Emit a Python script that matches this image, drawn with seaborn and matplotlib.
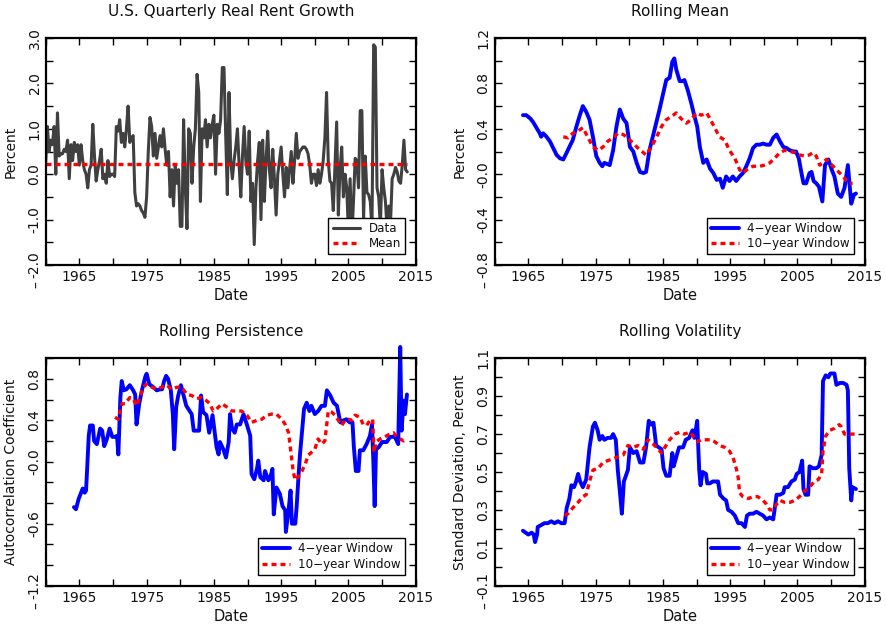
import numpy as np
import pandas as pd
import matplotlib
matplotlib.use("Agg")
import matplotlib.pyplot as plt
import seaborn as sns

# ---------------- data ----------------
# Quarterly real rent growth, 1960Q1 .. 2013Q4 (4 values per year)
rent_growth = [
    0.25, 1.05, 0.5, 0.75,     # 1960
    0.65, 1.05, 0.0, 1.35,     # 1961
    0.4, 0.45, 0.45, 0.55,     # 1962
    0.5, 0.75, -0.1, 0.65,     # 1963
    0.3, 0.7, 0.5, 0.65,       # 1964
    0.2, 0.65, 0.3, 0.1,       # 1965
    0.0, -0.3, 0.1, 0.2,       # 1966
    1.1, 0.4, -0.15, 0.1,      # 1967
    0.3, 0.55, -0.1, 0.0,      # 1968
    -0.2, 0.3, -0.05, 0.0,     # 1969
    0.0, -0.05, 1.05, 0.95,    # 1970
    1.2, 0.7, 0.9, 0.6,        # 1971
    1.0, 1.5, 0.7, 0.8,        # 1972
    0.85, -0.4, -0.7, -0.65,   # 1973
    -0.7, -0.8, -0.85, -0.95,  # 1974
    -0.5, 0.5, 1.25, 1.05,     # 1975
    0.4, 0.9, 0.35, 0.6,       # 1976
    0.85, 0.6, 1.0, 0.55,      # 1977
    0.2, 0.5, -0.5, 0.1,       # 1978
    -0.7, 0.2, -0.2, 0.1,      # 1979
    -1.15, -1.15, 1.2, -0.3,   # 1980
    -1.2, 1.0, 0.9, -0.2,      # 1981
    0.6, 1.0, 2.2, 1.8,        # 1982
    -0.6, 1.0, 0.8, 1.2,       # 1983
    0.6, 1.1, 0.8, 1.1,        # 1984
    1.3, 0.0, 1.1, 0.9,        # 1985
    1.2, 2.35, 2.35, 0.9,      # 1986
    -0.45, 1.8, 0.3, -0.1,     # 1987
    0.3, 0.6, 1.0, 0.2,        # 1988
    -0.5, 0.4, 1.05, 0.3,      # 1989
    0.0, 0.95, -0.6, -0.2,     # 1990
    -1.55, -0.3, 0.3, 0.7,     # 1991
    -1.0, 0.75, -0.6, 0.3,     # 1992
    0.95, 0.1, -0.3, 0.55,     # 1993
    -0.1, -0.9, 0.0, 0.3,      # 1994
    0.6, 0.0, -0.5, 0.15,      # 1995
    -0.3, 0.1, 0.5, -0.2,      # 1996
    0.3, 0.9, 0.35, 0.5,       # 1997
    0.55, 0.6, 0.6, 0.55,      # 1998
    0.45, 0.2, -0.2, 0.0,      # 1999
    0.0, -0.25, 0.1, -0.2,     # 2000
    0.0, 0.3, 0.8, 1.8,        # 2001
    0.3, -0.15, -0.2, -0.8,    # 2002
    0.2, 1.15, -0.9, 0.1,      # 2003
    0.6, -0.5, 0.0, -0.3,      # 2004
    -1.3, -0.1, -1.45, -0.6,   # 2005
    0.35, 0.3, -0.3, 1.4,      # 2006
    1.4, -1.0, 0.4, -0.4,      # 2007
    -0.45, -0.6, -1.2, 2.85,   # 2008
    2.8, -0.3, -0.5, -1.15,    # 2009
    0.1, -0.3, -0.6, -1.2,     # 2010
    -0.7, -1.1, -0.1, 0.0,     # 2011
    0.15, 0.05, -0.15, -0.2,   # 2012
    0.2, 0.75, 0.1, 0.05,      # 2013
]
rent_dates = np.arange(1960.0, 2014.0, 0.25)[:len(rent_growth)]
rent_mean = 0.22

# Rolling mean, 4-year window
mean4_dates = [1964.2, 1964.7, 1965.3, 1965.7, 1966.2, 1966.7, 1966.9, 1967.2, 1967.7, 1968.2,
               1968.7, 1969.2, 1969.7, 1970.2, 1970.7, 1971.1, 1971.6, 1972.1, 1972.6, 1973.1,
               1973.6, 1974.1, 1974.6, 1975.1, 1975.6, 1976.0, 1976.3, 1977.1, 1977.6, 1978.1,
               1978.6, 1979.1, 1979.6, 1980.1, 1980.6, 1981.1, 1981.6, 1982.1, 1982.5, 1983.0,
               1983.5, 1984.0, 1984.5, 1985.0, 1985.5, 1986.0, 1986.4, 1986.7, 1987.0, 1987.5,
               1988.0, 1988.2, 1988.7, 1989.2, 1989.7, 1990.1, 1990.5, 1991.0, 1991.5, 1992.0,
               1992.5, 1993.0, 1993.5, 1993.9, 1994.4, 1994.9, 1995.4, 1995.9, 1996.4, 1996.9,
               1997.4, 1997.9, 1998.4, 1998.9, 1999.4, 1999.9, 2000.4, 2000.9, 2001.4, 2001.9,
               2002.4, 2002.9, 2003.4, 2003.9, 2004.4, 2004.8, 2005.2, 2005.6, 2005.9, 2006.3,
               2006.8, 2007.1, 2007.4, 2007.8, 2008.2, 2008.7, 2009.1, 2009.6, 2010.1, 2010.5,
               2011.0, 2011.5, 2012.0, 2012.5, 2013.0, 2013.4, 2013.7]
mean4_vals = [0.52, 0.52, 0.49, 0.46, 0.41, 0.36, 0.33, 0.36, 0.33, 0.29,
              0.23, 0.17, 0.14, 0.13, 0.19, 0.24, 0.30, 0.41, 0.51, 0.60,
              0.55, 0.48, 0.33, 0.16, 0.10, 0.07, 0.10, 0.08, 0.21, 0.42,
              0.57, 0.49, 0.45, 0.24, 0.20, 0.10, 0.02, 0.01, 0.02, 0.21,
              0.33, 0.45, 0.57, 0.70, 0.83, 0.85, 0.99, 1.02, 0.92, 0.82,
              0.82, 0.83, 0.74, 0.63, 0.51, 0.42, 0.24, 0.10, 0.13, 0.05,
              0.01, -0.05, -0.04, -0.12, -0.02, -0.06, -0.02, -0.06, -0.02, 0.01,
              0.07, 0.14, 0.23, 0.26, 0.26, 0.27, 0.26, 0.26, 0.32, 0.35,
              0.29, 0.24, 0.23, 0.21, 0.20, 0.20, 0.14, 0.01, -0.08, -0.08,
              0.01, 0.02, -0.06, -0.08, -0.11, -0.24, 0.08, 0.13, 0.04, -0.02,
              -0.17, -0.20, -0.12, 0.08, -0.26, -0.18, -0.17]

# Rolling mean, 10-year window
mean10_dates = [1970.2, 1970.9, 1971.6, 1972.4, 1973.1, 1973.9, 1974.6, 1975.4, 1976.1, 1976.8,
                1977.6, 1978.3, 1979.1, 1979.8, 1980.6, 1981.3, 1982.1, 1982.5, 1983.3, 1984.0,
                1984.8, 1985.5, 1986.3, 1987.0, 1987.7, 1988.5, 1989.2, 1990.0, 1990.7, 1991.5,
                1992.0, 1992.7, 1993.4, 1994.2, 1994.9, 1995.7, 1996.4, 1996.9, 1997.7, 1998.4,
                1999.4, 2000.1, 2000.9, 2001.6, 2002.4, 2003.1, 2003.9, 2004.6, 2005.3, 2006.1,
                2006.8, 2007.3, 2007.8, 2008.3, 2008.8, 2009.3, 2009.8, 2010.3, 2010.8, 2011.3,
                2011.8, 2012.3, 2012.8, 2013.2]
mean10_vals = [0.33, 0.32, 0.36, 0.38, 0.41, 0.32, 0.24, 0.21, 0.24, 0.29,
               0.32, 0.36, 0.35, 0.32, 0.27, 0.23, 0.19, 0.17, 0.24, 0.32,
               0.42, 0.48, 0.51, 0.54, 0.49, 0.45, 0.48, 0.54, 0.52, 0.54,
               0.49, 0.41, 0.33, 0.30, 0.21, 0.14, 0.04, 0.01, 0.05, 0.07,
               0.07, 0.08, 0.10, 0.14, 0.19, 0.21, 0.20, 0.19, 0.17, 0.16,
               0.17, 0.19, 0.16, 0.08, 0.10, 0.13, 0.10, 0.07, 0.04, 0.01,
               -0.02, -0.06, -0.08, -0.08]

# Rolling persistence (autocorrelation), 4-year window
pers4_dates = [1964.2, 1964.5, 1964.9, 1965.2, 1965.5, 1965.8, 1966.0, 1966.2, 1966.4, 1966.6,
               1967.0, 1967.2, 1967.6, 1968.1, 1968.4, 1968.7, 1969.1, 1969.5, 1969.9, 1970.3,
               1970.6, 1970.8, 1971.1, 1971.3, 1971.6, 1972.0, 1972.5, 1973.0, 1973.3, 1973.5,
               1973.9, 1974.3, 1974.8, 1975.0, 1975.4, 1976.0, 1976.5, 1977.0, 1977.3, 1977.6,
               1977.9, 1978.2, 1978.6, 1978.9, 1979.1, 1979.4, 1979.7, 1980.1, 1980.5, 1980.9,
               1981.2, 1981.7, 1982.0, 1982.4, 1982.8, 1983.1, 1983.4, 1983.9, 1984.3, 1984.8,
               1985.2, 1985.4, 1985.7, 1985.9, 1986.4, 1986.8, 1987.2, 1987.4, 1987.7, 1988.1,
               1988.4, 1988.9, 1989.4, 1989.9, 1990.4, 1990.6, 1991.0, 1991.4, 1991.6, 1991.9,
               1992.4, 1992.6, 1993.1, 1993.4, 1993.7, 1993.9, 1994.3, 1994.8, 1995.2, 1995.6,
               1995.7, 1996.1, 1996.4, 1996.6, 1997.1, 1997.3, 1997.6, 1997.8, 1998.2, 1998.4,
               1998.8, 1999.2, 1999.5, 2000.0, 2000.5, 2001.0, 2001.5, 2001.8, 2002.3, 2002.8,
               2003.3, 2003.8, 2004.3, 2004.7, 2005.2, 2005.6, 2005.8, 2006.1, 2006.5, 2006.7,
               2007.2, 2007.7, 2008.2, 2008.5, 2008.7, 2008.9, 2009.1, 2009.5, 2010.0, 2010.7,
               2011.2, 2011.9, 2012.4, 2012.7, 2012.9, 2013.2, 2013.4, 2013.7]
pers4_vals = [-0.44, -0.46, -0.36, -0.31, -0.26, -0.30, -0.28, -0.02, 0.25, 0.35,
              0.35, 0.20, 0.17, 0.32, 0.30, 0.15, 0.22, 0.32, 0.24, 0.24,
              0.25, 0.07, 0.62, 0.78, 0.69, 0.70, 0.74, 0.69, 0.65, 0.36,
              0.56, 0.69, 0.82, 0.85, 0.75, 0.72, 0.69, 0.70, 0.70, 0.78,
              0.83, 0.80, 0.69, 0.46, 0.12, 0.53, 0.64, 0.74, 0.64, 0.54,
              0.51, 0.46, 0.30, 0.30, 0.30, 0.64, 0.48, 0.45, 0.28, 0.45,
              0.24, 0.14, 0.07, 0.19, 0.12, 0.04, 0.19, 0.46, 0.32, 0.28,
              0.36, 0.36, 0.46, 0.36, 0.25, -0.12, -0.17, -0.07, 0.01, -0.15,
              -0.18, -0.09, -0.18, -0.15, -0.07, -0.51, -0.25, -0.31, -0.43, -0.47,
              -0.68, -0.47, -0.28, -0.60, -0.60, -0.44, -0.12, 0.07, 0.36, 0.51,
              0.57, 0.49, 0.54, 0.46, 0.49, 0.54, 0.54, 0.69, 0.64, 0.57,
              0.54, 0.38, 0.40, 0.41, 0.38, 0.38, 0.15, -0.09, -0.09, 0.11,
              0.11, 0.17, 0.25, 0.36, 0.01, -0.43, 0.12, 0.14, 0.19, 0.19,
              0.24, 0.24, 0.17, 1.11, 0.30, 0.59, 0.46, 0.65]

# Rolling persistence, 10-year window
pers10_dates = [1970.3, 1970.8, 1971.3, 1971.8, 1972.5, 1973.0, 1973.5, 1974.0, 1974.5, 1975.0,
                1975.8, 1976.5, 1977.2, 1978.0, 1978.7, 1979.5, 1980.2, 1981.0, 1981.7, 1982.4,
                1983.2, 1983.9, 1984.4, 1984.9, 1985.4, 1986.2, 1986.9, 1987.7, 1988.4, 1989.1,
                1989.9, 1990.6, 1991.4, 1992.1, 1992.9, 1993.6, 1994.3, 1995.1, 1995.6, 1996.1,
                1996.3, 1996.6, 1996.8, 1997.1, 1997.6, 1998.1, 1998.6, 1999.0, 1999.5, 2000.0,
                2000.5, 2001.0, 2001.5, 2002.0, 2002.5, 2003.0, 2003.5, 2004.0, 2004.5, 2005.0,
                2005.5, 2006.0, 2006.7, 2007.2, 2007.7, 2008.2, 2008.6, 2008.8, 2009.1, 2009.7,
                2010.4, 2011.2, 2011.7, 2012.2, 2012.7, 2013.2, 2013.7]
pers10_vals = [0.43, 0.41, 0.56, 0.56, 0.62, 0.61, 0.54, 0.62, 0.72, 0.75,
               0.72, 0.70, 0.72, 0.74, 0.70, 0.72, 0.72, 0.65, 0.64, 0.61,
               0.62, 0.59, 0.56, 0.49, 0.51, 0.56, 0.53, 0.49, 0.49, 0.49,
               0.45, 0.38, 0.40, 0.41, 0.45, 0.46, 0.46, 0.41, 0.36, 0.28,
               0.17, 0.01, -0.10, -0.18, -0.14, -0.09, -0.02, 0.06, 0.09, 0.12,
               0.22, 0.17, 0.20, 0.49, 0.48, 0.45, 0.40, 0.35, 0.40, 0.41,
               0.40, 0.45, 0.43, 0.36, 0.35, 0.40, 0.41, 0.09, 0.19, 0.22,
               0.24, 0.27, 0.28, 0.24, 0.22, 0.20, 0.22]

# Rolling volatility, 4-year window
vol4_dates = [1964.2, 1964.6, 1965.0, 1965.5, 1965.8, 1966.0, 1966.3, 1966.4, 1966.9, 1967.4,
              1967.9, 1968.4, 1968.9, 1969.4, 1969.9, 1970.4, 1970.7, 1971.1, 1971.4, 1971.8,
              1972.1, 1972.4, 1972.7, 1973.1, 1973.6, 1974.1, 1974.6, 1974.9, 1975.3, 1975.6,
              1976.0, 1976.3, 1976.8, 1977.3, 1977.6, 1978.0, 1978.3, 1978.6, 1978.9, 1979.2,
              1979.6, 1979.8, 1980.1, 1980.6, 1981.1, 1981.6, 1982.1, 1982.5, 1982.9, 1983.3,
              1983.6, 1984.0, 1984.4, 1984.8, 1985.1, 1985.5, 1986.0, 1986.4, 1986.6, 1987.0,
              1987.4, 1988.0, 1988.4, 1988.9, 1989.4, 1989.7, 1990.1, 1990.4, 1990.6, 1990.9,
              1991.4, 1991.6, 1992.0, 1992.4, 1992.9, 1993.2, 1993.5, 1994.0, 1994.4, 1994.7,
              1995.2, 1995.7, 1996.2, 1996.7, 1997.2, 1997.5, 1997.9, 1998.4, 1998.9, 1999.4,
              1999.9, 2000.4, 2000.9, 2001.4, 2001.6, 2001.9, 2002.4, 2002.9, 2003.1, 2003.6,
              2004.1, 2004.6, 2004.9, 2005.3, 2005.7, 2005.9, 2006.2, 2006.6, 2006.8, 2007.3,
              2007.8, 2008.2, 2008.6, 2008.8, 2009.2, 2009.6, 2009.9, 2010.5, 2010.8, 2011.3,
              2011.8, 2012.3, 2012.5, 2012.7, 2013.0, 2013.2, 2013.7]
vol4_vals = [0.19, 0.18, 0.17, 0.18, 0.17, 0.13, 0.17, 0.21, 0.22, 0.23,
             0.23, 0.24, 0.23, 0.24, 0.23, 0.23, 0.31, 0.36, 0.43, 0.42,
             0.45, 0.49, 0.45, 0.42, 0.46, 0.63, 0.74, 0.76, 0.72, 0.67,
             0.69, 0.67, 0.68, 0.68, 0.70, 0.67, 0.51, 0.40, 0.28, 0.45,
             0.49, 0.51, 0.63, 0.60, 0.61, 0.55, 0.55, 0.63, 0.77, 0.75,
             0.76, 0.64, 0.63, 0.62, 0.52, 0.48, 0.48, 0.60, 0.53, 0.58,
             0.63, 0.63, 0.67, 0.68, 0.72, 0.68, 0.77, 0.51, 0.43, 0.50,
             0.49, 0.44, 0.44, 0.45, 0.45, 0.45, 0.38, 0.36, 0.35, 0.30,
             0.29, 0.27, 0.23, 0.23, 0.21, 0.27, 0.28, 0.28, 0.29, 0.28,
             0.27, 0.25, 0.26, 0.25, 0.30, 0.38, 0.38, 0.39, 0.42, 0.42,
             0.45, 0.46, 0.49, 0.50, 0.56, 0.41, 0.38, 0.38, 0.53, 0.52,
             0.52, 0.53, 0.59, 0.98, 1.01, 1.00, 1.02, 1.02, 0.96, 0.97,
             0.97, 0.96, 0.93, 0.52, 0.35, 0.42, 0.41]

# Rolling volatility, 10-year window
vol10_dates = [1970.4, 1970.9, 1971.6, 1972.4, 1973.1, 1973.6, 1974.1, 1974.6, 1975.4, 1976.1,
               1976.8, 1977.6, 1978.3, 1979.1, 1979.8, 1980.6, 1981.3, 1982.1, 1982.8, 1983.5,
               1984.3, 1984.8, 1985.3, 1986.0, 1986.8, 1987.5, 1988.2, 1989.0, 1989.7, 1990.2,
               1990.7, 1991.5, 1992.2, 1992.7, 1993.4, 1994.2, 1994.9, 1995.4, 1995.9, 1996.2,
               1996.4, 1996.9, 1997.7, 1998.4, 1999.1, 1999.9, 2000.4, 2000.9, 2001.4, 2001.9,
               2002.4, 2003.1, 2003.9, 2004.6, 2005.3, 2006.1, 2006.8, 2007.5, 2008.1, 2008.6,
               2008.8, 2009.2, 2009.8, 2010.5, 2011.2, 2011.5, 2012.0, 2012.7, 2013.5]
vol10_vals = [0.27, 0.28, 0.31, 0.34, 0.37, 0.38, 0.45, 0.51, 0.52, 0.55,
              0.56, 0.57, 0.58, 0.59, 0.64, 0.63, 0.64, 0.62, 0.67, 0.65,
              0.62, 0.60, 0.63, 0.67, 0.70, 0.71, 0.70, 0.71, 0.68, 0.66,
              0.67, 0.67, 0.67, 0.66, 0.64, 0.63, 0.61, 0.58, 0.52, 0.47,
              0.39, 0.37, 0.36, 0.37, 0.37, 0.35, 0.33, 0.30, 0.30, 0.33,
              0.35, 0.34, 0.34, 0.35, 0.37, 0.40, 0.42, 0.45, 0.46, 0.49,
              0.61, 0.69, 0.72, 0.73, 0.75, 0.74, 0.70, 0.70, 0.70]

# Titles, labels and tick labels
titles = ["U.S. Quarterly Real Rent Growth", "Rolling Mean",
          "Rolling Persistence", "Rolling Volatility"]
ylabels = ["Percent", "Percent", "Autocorrelation Coefficient",
           "Standard Deviation, Percent"]
legend_rent = ["Data", "Mean"]
legend_roll = ["4\u2212year Window", "10\u2212year Window"]
x_tick_labels = ["1965", "1975", "1985", "1995", "2005", "2015"]
y1_tick_labels = ["-2.0", "-1.0", "0.0", "1.0", "2.0", "3.0"]
y2_tick_labels = ["-0.8", "-0.4", "-0.0", "0.4", "0.8", "1.2"]
y3_tick_labels = ["-1.2", "-0.6", "-0.0", "0.4", "0.8"]
y4_tick_labels = ["-0.1", "0.1", "0.3", "0.5", "0.7", "0.9", "1.1"]

# ---------------- styling ----------------
sns.set_theme(style="ticks")
plt.rcParams['font.family'] = ['DejaVu Sans']
plt.rcParams['text.color'] = '#111111'
plt.rcParams['axes.labelcolor'] = '#111111'

W, H = 886, 628
fig = plt.figure(figsize=(W / 100, H / 100), dpi=100)
fig.patch.set_facecolor('white')


def px_axes(left, top, right, bottom):
    return fig.add_axes([left / W, 1 - bottom / H, (right - left) / W, (bottom - top) / H])


ax1 = px_axes(45.7, 38, 415.7, 265)
ax2 = px_axes(494.7, 38, 864.7, 265)
ax3 = px_axes(45.7, 358.3, 415.7, 585.7)
ax4 = px_axes(494.7, 358.3, 864.7, 585.7)

BLUE = '#0000ff'
RED = '#ff0000'
GRAY = '#404040'
DASH = (0, (1.5, 1.2))


def style(ax, ylim, ymajor, ylabels_, yminor, ylabel, title):
    ax.set_facecolor('white')
    ax.set_xlim(1960, 2015)
    ax.set_ylim(*ylim)
    ax.set_xticks([1965, 1975, 1985, 1995, 2005, 2015])
    ax.set_xticklabels(x_tick_labels)
    ax.set_xticks([1960, 1970, 1980, 1990, 2000, 2010], minor=True)
    ax.set_yticks(ymajor)
    ax.set_yticklabels(ylabels_, rotation=90, va='center', ha='right')
    ax.set_yticks(yminor, minor=True)
    ax.tick_params(which='both', direction='in', top=True, right=True,
                   length=5, width=1, color='black', labelsize=10,
                   labelcolor='#111111')
    ax.tick_params(axis='x', which='both', pad=3.5)
    ax.tick_params(axis='y', which='both', pad=3)
    for s in ax.spines.values():
        s.set_visible(True)
        s.set_linewidth(1.6)
        s.set_color('black')
    ax.grid(False)
    ax.set_xlabel("Date", fontsize=10.5, labelpad=3)
    ax.set_ylabel(ylabel, fontsize=10, labelpad=7)
    ax.set_title(title, fontsize=11, pad=16)


def legend(ax):
    leg = ax.legend(loc='lower right', fancybox=False, framealpha=1,
                    edgecolor='black', fontsize=8.6, handlelength=2.3,
                    borderaxespad=0.9, borderpad=0.35, labelspacing=0.2,
                    handletextpad=0.7)
    leg.get_frame().set_linewidth(1.0)


# Panel 1
df1 = pd.DataFrame({"date": rent_dates, "growth": rent_growth,
                    "mean": [rent_mean] * len(rent_growth)})
sns.lineplot(data=df1, x="date", y="growth", ax=ax1, color=GRAY, linewidth=2.2,
             label=legend_rent[0], sort=False, estimator=None)
sns.lineplot(data=df1, x="date", y="mean", ax=ax1, color=RED, linewidth=2.4,
             linestyle=DASH, label=legend_rent[1], sort=False, estimator=None)
style(ax1, (-2.0, 3.0), [-2, -1, 0, 1, 2, 3], y1_tick_labels,
      [-1.5, -0.5, 0.5, 1.5, 2.5], ylabels[0], titles[0])
legend(ax1)

# Panel 2
sns.lineplot(x=mean4_dates, y=mean4_vals, ax=ax2, color=BLUE, linewidth=2.8,
             label=legend_roll[0], sort=False, estimator=None)
sns.lineplot(x=mean10_dates, y=mean10_vals, ax=ax2, color=RED, linewidth=2.4,
             linestyle=DASH, label=legend_roll[1], sort=False, estimator=None)
style(ax2, (-0.8, 1.2), [-0.8, -0.4, 0.0, 0.4, 0.8, 1.2], y2_tick_labels,
      [-0.6, -0.2, 0.2, 0.6, 1.0], ylabels[1], titles[1])
legend(ax2)

# Panel 3
sns.lineplot(x=pers4_dates, y=pers4_vals, ax=ax3, color=BLUE, linewidth=2.8,
             label=legend_roll[0], sort=False, estimator=None)
sns.lineplot(x=pers10_dates, y=pers10_vals, ax=ax3, color=RED, linewidth=2.4,
             linestyle=DASH, label=legend_roll[1], sort=False, estimator=None)
style(ax3, (-1.2, 1.0), [-1.2, -0.6, 0.0, 0.4, 0.8], y3_tick_labels,
      [-1.0, -0.8, -0.4, -0.2, 0.2, 0.6, 1.0], ylabels[2], titles[2])
legend(ax3)
for ln in ax3.lines:
    ln.set_clip_on(False)

# Panel 4
sns.lineplot(x=vol4_dates, y=vol4_vals, ax=ax4, color=BLUE, linewidth=2.8,
             label=legend_roll[0], sort=False, estimator=None)
sns.lineplot(x=vol10_dates, y=vol10_vals, ax=ax4, color=RED, linewidth=2.4,
             linestyle=DASH, label=legend_roll[1], sort=False, estimator=None)
style(ax4, (-0.1, 1.1), [-0.1, 0.1, 0.3, 0.5, 0.7, 0.9, 1.1], y4_tick_labels,
      [0.0, 0.2, 0.4, 0.6, 0.8, 1.0], ylabels[3], titles[3])
legend(ax4)

# stray minus marks drawn under each y axis in the original
for (px, py) in [(37, 285), (486, 285), (37, 605.5), (486, 605.5)]:
    fig.text(px / W, 1 - py / H, "\u2013", rotation=90, ha='center', va='center',
             fontsize=10, color='#111111')

fig.savefig("out.png", dpi=100, facecolor='white')
